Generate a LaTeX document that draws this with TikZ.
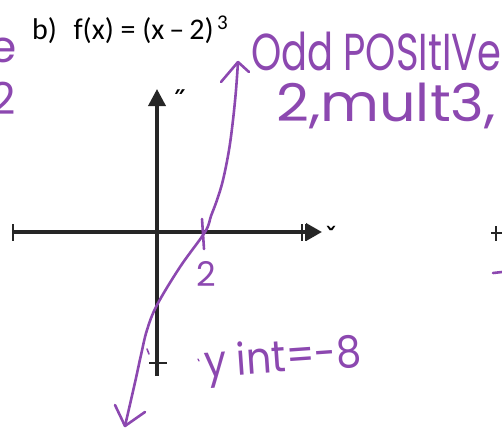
\documentclass[tikz,border=0pt]{standalone}
\usepackage{fontspec}
\setmainfont{Carlito}
\newfontfamily\hand{Poppins}
\newfontfamily\symfont{DejaVu Sans}
\usetikzlibrary{arrows.meta}
\definecolor{marker}{RGB}{140,72,176}
\tikzset{
 axis/.style={line width=3.6pt,black!85},
 pen/.style={marker,line width=2.6pt,line cap=round,line join=round},
 ink/.style={marker,inner sep=0pt,font=\hand}
}
\begin{document}
\begin{tikzpicture}[x=1pt,y=-1pt,>=stealth]
 \useasboundingbox (0,0) rectangle (502,428);
 \clip (0,0) rectangle (502,428);
 \node[anchor=base west,inner sep=0pt,font=\fontsize{30}{34}\selectfont] (title) at (32,39) {b)\hspace{0.55em}f(x) = (x\,--\,2)\textsuperscript{\,3}};
 \node[ink,font=\hand\fontsize{44}{50}\selectfont] (e) at (3,50) {e};
 \node[ink,font=\hand\fontsize{44}{50}\selectfont] (twoleft) at (3,98) {2};
 \draw[axis] (13,232) -- (306,232);
 \draw[axis,-{Triangle[length=16pt,width=17pt]}] (300,232) -- (322,232);
 \draw[axis,line width=1.8pt] (13,224) -- (13,241) (302,224) -- (302,241) (306,224) -- (306,241);
 \draw[axis,-{Triangle[length=17pt,width=17pt]}] (157,376) -- (157,89);
 \draw[axis,line width=2.4pt] (149,363) -- (167,363);
 \node[font=\symfont\bfseries\fontsize{26}{28}\selectfont] (ylab) at (179,100) {˝};
 \node[font=\symfont\bfseries\fontsize{24}{28}\selectfont] (xlab) at (331,236) {ˇ};
 \draw[axis,line width=2.4pt] (491,233) -- (502,233) (496,226) -- (496,241);
 \draw[pen] (493,273) -- (502,272);
 \coordinate (lo) at (125,426);
 \coordinate (hi) at (238,62);
 \draw[pen] plot[smooth,tension=0.6] coordinates {(125,426) (131,400) (136,378) (141,355) (147,330) (157,305) (180,267) (205,232) (211,216) (217,200) (223,180) (229,150) (233,120) (236,90) (238,62)};
 \draw[pen] (lo) -- (115,405) (lo) -- (145,412);
 \draw[pen] (hi) -- (221,82) (hi) -- (249,72);
 \draw[pen] (202,219) -- (204,249);
 \node[ink,font=\hand\fontsize{34}{40}\selectfont] (two) at (206,274) {2};
 \draw[pen,line width=1.6pt] (147,349) -- (149,354);
 \draw[pen,line width=1.2pt] (198,359) -- (199,361);
 \node[ink,font=\hand\fontsize{44}{50}\selectfont,rotate=4,xscale=0.9] (yint) at (283,361) {y int=-8};
 \node[ink,anchor=base west,font=\hand\fontsize{52}{60}\selectfont,xscale=0.74] (odd) at (251,70) {Odd POSItIVe};
 \node[ink,anchor=base west,font=\hand\fontsize{52}{60}\selectfont,xscale=1.1] (mult) at (276,121) {2,mult3,};
\end{tikzpicture}
\end{document}
